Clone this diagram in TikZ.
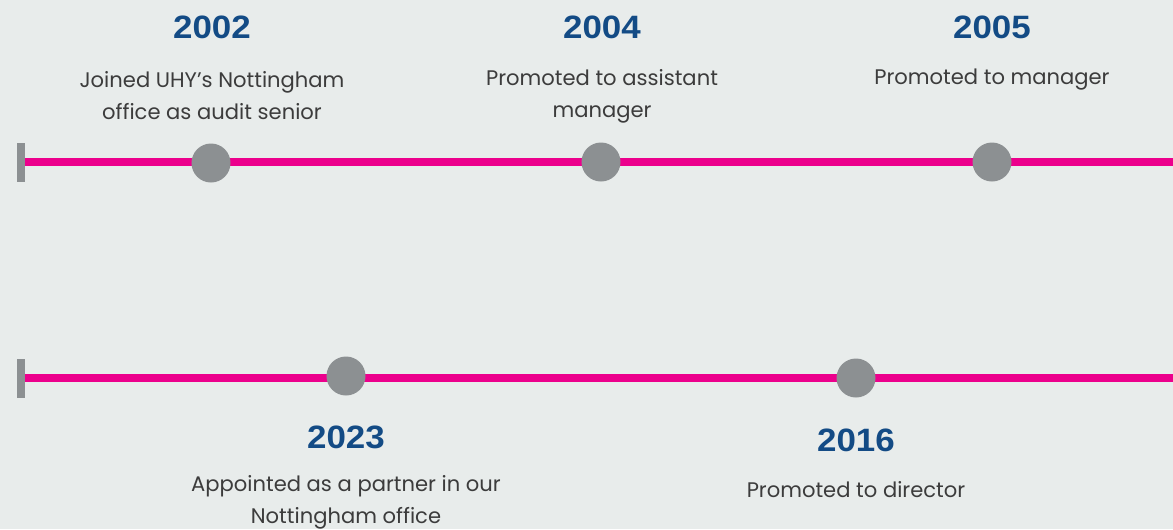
\documentclass[tikz,border=0pt]{standalone}
\usepackage{fontspec}
\setmainfont{Poppins}
\newfontfamily\yearfont[FakeStretch=1.08]{Liberation Sans}
\definecolor{bgcol}{HTML}{E8ECEB}
\definecolor{linepink}{HTML}{EC008C}
\definecolor{dotgray}{HTML}{8C9092}
\definecolor{yearblue}{HTML}{134B85}
\definecolor{textgray}{HTML}{3C3C3C}
\begin{document}
\begin{tikzpicture}[x=0.025cm,y=-0.025cm,
	pinkline/.style={draw=linepink, line width=0.19cm},
	endtick/.style={fill=dotgray},
	dot/.style={circle, fill=dotgray, inner sep=0pt, minimum size=0.975cm},
	year/.style={font=\yearfont\bfseries\fontsize{23}{26}\selectfont, text=yearblue},
	desc/.style={font=\fontsize{15}{22.7}\selectfont, text=textgray, align=center}]
	\fill[bgcol] (0,0) rectangle (1173,529);
	\useasboundingbox (0,0) rectangle (1173,529);

	% first row
	\coordinate (start1) at (21,162);
	\coordinate (end1) at (1173,162);
	\draw[pinkline] (start1) -- (end1);
	\fill[endtick] (17,143) rectangle (25,182);
	\node[dot] (d2002) at (211,163) {};
	\node[dot] (d2004) at (601,162) {};
	\node[dot] (d2005) at (992,162) {};
	\node[year] (y2002) at (212,27) {2002};
	\node[year] (y2004) at (602,27) {2004};
	\node[year] (y2005) at (992,27) {2005};
	\node[desc] (t2002) at (212,96) {Joined UHY’s Nottingham\\office as audit senior};
	\node[desc] (t2004) at (602,96) {Promoted to assistant\\manager};
	\node[desc] (t2005) at (992,80) {Promoted to manager};

	% second row
	\coordinate (start2) at (21,378);
	\coordinate (end2) at (1173,378);
	\draw[pinkline] (start2) -- (end2);
	\fill[endtick] (17,359) rectangle (25,398);
	\node[dot] (d2023) at (346,376) {};
	\node[dot] (d2016) at (856,378) {};
	\node[year] (y2023) at (346,437) {2023};
	\node[year] (y2016) at (856,440) {2016};
	\node[desc] (t2023) at (346,502.5) {Appointed as a partner in our\\Nottingham office};
	\node[desc] (t2016) at (856,490) {Promoted to director};
\end{tikzpicture}
\end{document}
